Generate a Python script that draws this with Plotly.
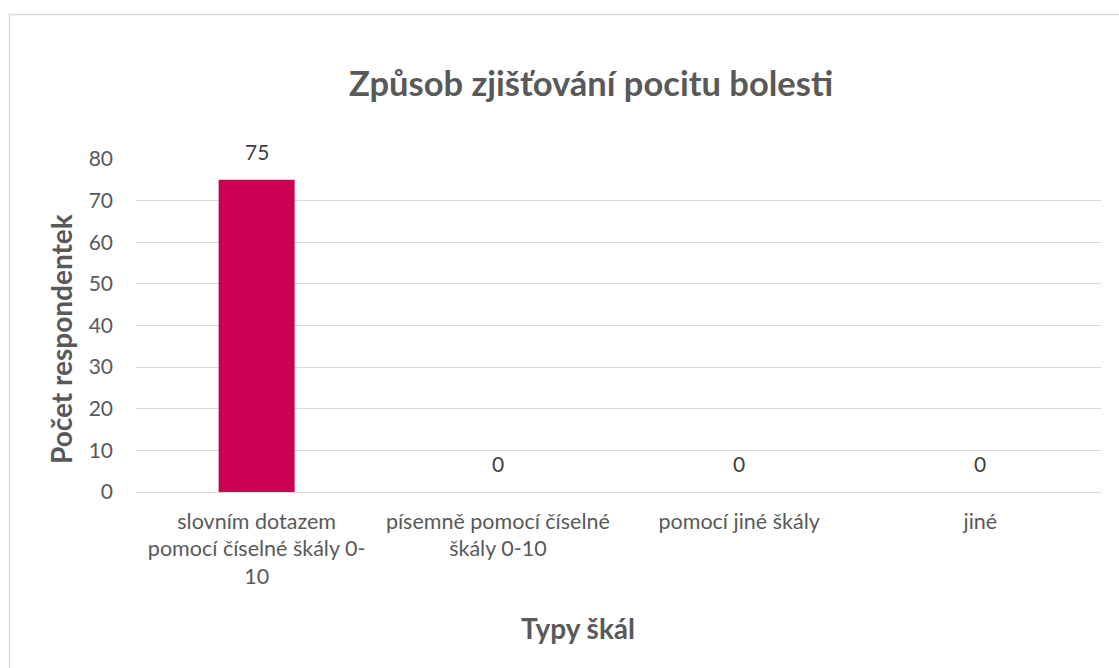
import plotly.graph_objects as go

categories = [
    "slovním dotazem<br>pomocí číselné škály 0-<br>10",
    "písemně pomocí číselné<br>škály 0-10",
    "pomocí jiné škály",
    "jiné",
]
values = [75, 0, 0, 0]
y_ticks = [0, 10, 20, 30, 40, 50, 60, 70, 80]

title_text = "Způsob zjišťování pocitu bolesti"
y_title = "Počet respondentek"
x_title = "Typy škál"

FONT = "Lato"
GREY = "#595959"

fig = go.Figure(
    go.Bar(
        x=categories,
        y=values,
        marker=dict(color="#CC0052", line=dict(width=0)),
        hoverinfo="x+y",
    )
)

W, H = 1119, 668
L, R, T, B = 136, 18, 159, 176
pw, ph = W - L - R, H - T - B

def px_to_paper_x(px):
    return (px - L) / pw

def px_to_paper_y(py):
    return (H - B - py) / ph

label_annotations = [
    dict(
        x=c,
        y=v,
        xref="x",
        yref="y",
        text=str(v),
        showarrow=False,
        yanchor="bottom",
        yshift=14,
        font=dict(family=FONT, size=21, color="#404040"),
    )
    for c, v in zip(categories, values)
]

fig.update_layout(
    width=W,
    height=H,
    margin=dict(l=L, r=R, t=T, b=B),
    paper_bgcolor="white",
    plot_bgcolor="white",
    bargap=0.685,
    showlegend=False,
    font=dict(family=FONT, color=GREY, size=21),
    xaxis=dict(
        showgrid=False,
        showline=False,
        ticks="",
        ticklabelstandoff=14,
        tickfont=dict(family=FONT, size=21.5, color=GREY),
        fixedrange=True,
    ),
    yaxis=dict(
        range=[0, 80],
        tickvals=y_ticks,
        showgrid=True,
        gridcolor="#D9D9D9",
        gridwidth=1.3,
        zeroline=True,
        zerolinecolor="#D9D9D9",
        zerolinewidth=1.3,
        showline=False,
        ticks="",
        ticklabelstandoff=22,
        tickfont=dict(family=FONT, size=21, color=GREY),
        fixedrange=True,
    ),
    shapes=[
        dict(
            type="rect",
            xref="paper",
            yref="paper",
            x0=px_to_paper_x(9.5),
            x1=px_to_paper_x(1130),
            y0=px_to_paper_y(680),
            y1=px_to_paper_y(14.5),
            line=dict(color="#D9D9D9", width=1.5),
            fillcolor="rgba(0,0,0,0)",
            layer="below",
        )
    ],
    annotations=label_annotations + [
        dict(
            text=f"<b>{title_text}</b>",
            xref="paper",
            yref="paper",
            x=px_to_paper_x(591),
            y=px_to_paper_y(82),
            xanchor="center",
            yanchor="middle",
            showarrow=False,
            font=dict(family=FONT, size=34.5, color=GREY),
        ),
        dict(
            text=f"<b>{x_title}</b>",
            xref="paper",
            yref="paper",
            x=px_to_paper_x(578),
            y=px_to_paper_y(628),
            xanchor="center",
            yanchor="middle",
            showarrow=False,
            font=dict(family=FONT, size=28, color=GREY),
        ),
        dict(
            text=f"<b>{y_title}</b>",
            xref="paper",
            yref="paper",
            x=px_to_paper_x(61),
            y=px_to_paper_y(339),
            xanchor="center",
            yanchor="middle",
            textangle=-90,
            showarrow=False,
            font=dict(family=FONT, size=28, color=GREY),
        ),
    ],
)

fig.write_html(
    "out.html",
    config={"displayModeBar": False},
    post_script="document.body.style.margin='0';document.body.style.overflow='hidden';",
)
